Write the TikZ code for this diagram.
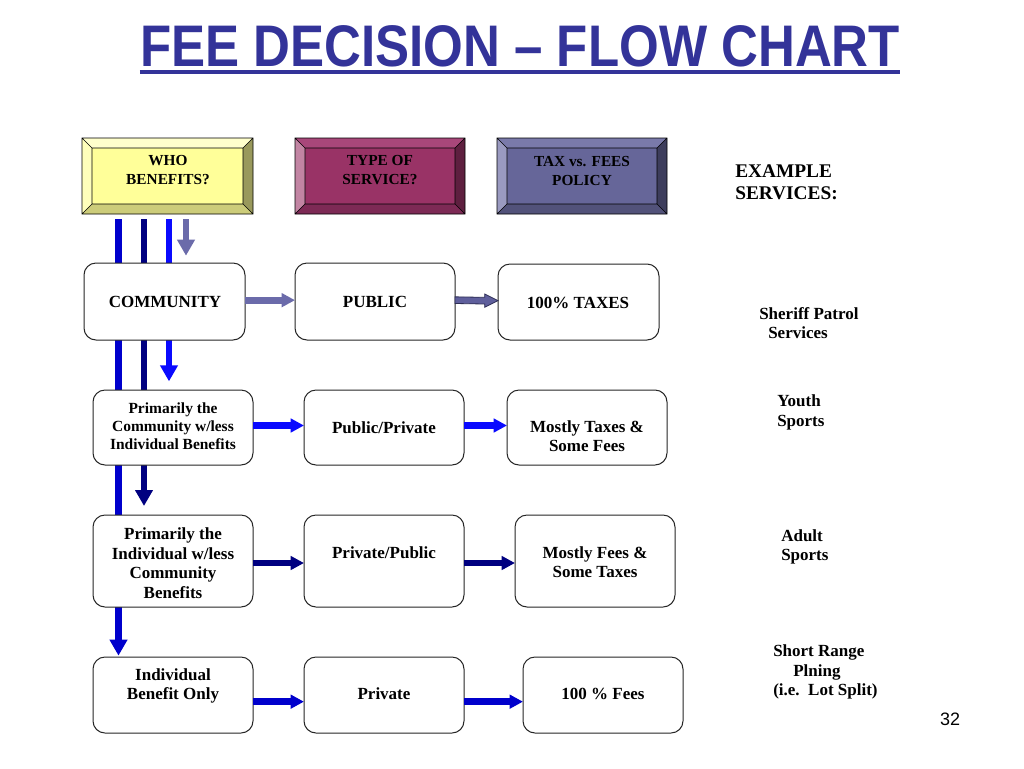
\documentclass[tikz,border=0pt]{standalone}
\usepackage{fontspec}
\setmainfont{Liberation Serif}
\newfontfamily\titlefont{Liberation Sans}[FakeStretch=0.87,Ligatures=TeX]
\newfontfamily\numfont{Liberation Sans}
\usetikzlibrary{arrows.meta,backgrounds}
\definecolor{ttl}{HTML}{333399}
\definecolor{yface}{HTML}{FFFF99}
\definecolor{ytop}{HTML}{FFFFCC}
\definecolor{yleft}{HTML}{FFFFBB}
\definecolor{yright}{HTML}{99995C}
\definecolor{ybot}{HTML}{CCCC7A}
\definecolor{mface}{HTML}{993366}
\definecolor{mtop}{HTML}{A8477A}
\definecolor{mleft}{HTML}{C285A3}
\definecolor{mright}{HTML}{5E1F3F}
\definecolor{mbot}{HTML}{7D2A55}
\definecolor{pface}{HTML}{666699}
\definecolor{ptop}{HTML}{7A7AAA}
\definecolor{pleft}{HTML}{9A9AC0}
\definecolor{pright}{HTML}{3D3D5C}
\definecolor{pbot}{HTML}{52527A}
\definecolor{cone}{HTML}{0000CC}
\definecolor{ctwo}{HTML}{000080}
\definecolor{cthree}{HTML}{0A0AFF}
\definecolor{cfour}{HTML}{6B6BAA}
\definecolor{cfourd}{HTML}{2E2E55}
\definecolor{cfourf}{HTML}{5F5F9C}
\newcommand\bevelbox[6]{%
  \fill[#2] (#1.north west) rectangle (#1.south east);
  \fill[#3] (#1.north west) -- (#1.north east) -- ([shift={(-7.5pt,-7.5pt)}]#1.north east) -- ([shift={(7.5pt,-7.5pt)}]#1.north west) -- cycle;
  \fill[#4] (#1.north west) -- ([shift={(7.5pt,-7.5pt)}]#1.north west) -- ([shift={(7.5pt,7.5pt)}]#1.south west) -- (#1.south west) -- cycle;
  \fill[#5] (#1.north east) -- ([shift={(-7.5pt,-7.5pt)}]#1.north east) -- ([shift={(-7.5pt,7.5pt)}]#1.south east) -- (#1.south east) -- cycle;
  \fill[#6] (#1.south west) -- ([shift={(7.5pt,7.5pt)}]#1.south west) -- ([shift={(-7.5pt,7.5pt)}]#1.south east) -- (#1.south east) -- cycle;
  \draw[bev] (#1.north west) rectangle (#1.south east)
    ([shift={(7.5pt,-7.5pt)}]#1.north west) rectangle ([shift={(-7.5pt,7.5pt)}]#1.south east)
    (#1.north west) -- ++(7.5pt,-7.5pt) (#1.north east) -- ++(-7.5pt,-7.5pt)
    (#1.south west) -- ++(7.5pt,7.5pt) (#1.south east) -- ++(-7.5pt,7.5pt);
}
\begin{document}
\begin{tikzpicture}[x=0.75pt,y=-0.75pt,
  sz/.style 2 args={minimum width=#1*0.75pt,minimum height=#2*0.75pt},
  hdr/.style={inner sep=0pt,outer sep=0pt},
  rbox/.style={draw=black!85,line width=0.75pt,rounded corners=9pt,fill=white,inner sep=0pt,outer sep=0pt},
  txt/.style={font=\bfseries\fontsize{12.75}{14.6}\selectfont,align=center,inner sep=0pt},
  htxt/.style={font=\bfseries\fontsize{11.5}{14.25}\selectfont,align=center,inner sep=0pt},
  stxt/.style={font=\bfseries\fontsize{11.6}{13.5}\selectfont,align=center,inner sep=0pt},
  sidetxt/.style={font=\bfseries\fontsize{12.75}{14.6}\selectfont,align=left,inner sep=0pt,anchor=west},
  harr/.style={line width=5pt,-{Triangle[length=10pt,width=10pt]}},
  varr/.style={line width=4.9pt,shorten <=3.75pt,-{Triangle[length=12pt,width=12.75pt]}},
  bev/.style={line width=0.5pt,draw=black}
]
\useasboundingbox (0,0) rectangle (1024,768);
% title
\node[font=\titlefont\bfseries\fontsize{44}{50}\selectfont,text=ttl,anchor=base,inner sep=0pt] (title) at (520,66) {FEE DECISION – FLOW CHART};
\draw[ttl,line width=3pt] ([yshift=-4.5pt]title.base west) -- ([yshift=-4.5pt]title.base east);
% header boxes
\node[hdr,sz={171}{76}] (who) at (167.5,176) {};
\node[hdr,sz={170}{76}] (type) at (380,176) {};
\node[hdr,sz={170}{76}] (tax) at (582,176) {};
\bevelbox{who}{yface}{ytop}{yleft}{yright}{ybot}
\bevelbox{type}{mface}{mtop}{mleft}{mright}{mbot}
\bevelbox{tax}{pface}{ptop}{pleft}{pright}{pbot}
\node[htxt] (whot) at (168,170.5) {WHO\\BENEFITS?};
\node[htxt] (typet) at (380,170.5) {TYPE OF\\SERVICE?};
\node[htxt] (taxt) at (582,170.5) {TAX vs. FEES\\POLICY};
\node[font=\bfseries\fontsize{14.5}{16.5}\selectfont,align=left,inner sep=0pt,anchor=west] (ex) at (735,182) {EXAMPLE\\SERVICES:};
% row boxes
\node[rbox,sz={161}{77}] (comm) at (164.5,301.5) {};
\node[rbox,sz={160}{77}] (pub) at (375,301.5) {};
\node[rbox,sz={161}{76}] (taxes) at (578.5,302) {};
\node[rbox,sz={160}{75}] (ra) at (173,427.5) {};
\node[rbox,sz={160}{75}] (rb) at (384,427.5) {};
\node[rbox,sz={160}{75}] (rc) at (587,427.5) {};
\node[rbox,sz={160}{92}] (sa) at (173,561) {};
\node[rbox,sz={160}{92}] (sb) at (384,561) {};
\node[rbox,sz={160}{92}] (sc) at (595,561) {};
\node[rbox,sz={160}{76}] (ua) at (173,695) {};
\node[rbox,sz={160}{76}] (ub) at (384,695) {};
\node[rbox,sz={160}{76}] (uc) at (603,695) {};
% texts
\node[txt] (commt) at (165,302) {COMMUNITY};
\node[txt] (pubt) at (375,302) {PUBLIC};
\node[txt] (taxest) at (578,303) {100\% TAXES};
\node[stxt] (rat) at (173,426) {Primarily the\\Community w/less\\Individual Benefits};
\node[txt] (rbt) at (384,428) {Public/Private};
\node[txt] (rct) at (587,436) {Mostly Taxes \&\\Some Fees};
\node[txt] (sat) at (173,563) {Primarily the\\Individual w/less\\Community\\Benefits};
\node[txt] (sbt) at (384,553) {Private/Public};
\node[txt] (sct) at (595,562) {Mostly Fees \&\\Some Taxes};
\node[txt] (uat) at (173,686) {Individual\\Benefit Only};
\node[txt] (ubt) at (384,694) {Private};
\node[txt] (uct) at (603,694) {100 \% Fees};
% example services
\node[sidetxt] (sheriff) at (759,323) {Sheriff Patrol\\\hspace*{6.75pt}Services};
\node[sidetxt] (youth) at (777,412.5) {Youth\\Sports};
\node[sidetxt] (adult) at (781,547) {Adult\\Sports};
\node[sidetxt] (short) at (773,672) {Short Range\\\hspace*{15pt}Plning\\(i.e.\ \ Lot Split)};
\node[font=\numfont\fontsize{13.5}{16}\selectfont,inner sep=0pt] (pg) at (950,719) {32};
% horizontal arrows
\draw[harr,cfour] ([yshift=1pt]comm.east) -- ([yshift=1pt]pub.west);
\filldraw[fill=cfourf,draw=cfourd,line width=0.6pt]
  ([yshift=3.5pt]pub.east) -- ([xshift=-10pt,yshift=3.5pt]taxes.west) -- ([xshift=-10pt,yshift=6pt]taxes.west)
  -- ([yshift=1pt]taxes.west) -- ([xshift=-10pt,yshift=-4pt]taxes.west) -- ([xshift=-10pt,yshift=-1.5pt]taxes.west)
  -- ([yshift=-1.5pt]pub.east) -- cycle;
\draw[harr,cthree] ([yshift=1.5pt]ra.east) -- ([yshift=1.5pt]rb.west);
\draw[harr,cthree] ([yshift=1.5pt]rb.east) -- ([yshift=1.5pt]rc.west);
\draw[harr,ctwo] ([yshift=-1.5pt]sa.east) -- ([yshift=-1.5pt]sb.west);
\draw[harr,ctwo] ([yshift=-1.5pt]sb.east) -- ([yshift=-1.5pt]sc.west);
\draw[harr,cone] ([yshift=-5pt]ua.east) -- ([yshift=-5pt]ub.west);
\draw[harr,cone] ([yshift=-5pt]ub.east) -- ([yshift=-5pt]uc.west);
% vertical arrows (behind boxes)
\coordinate (xa) at (118.5,0);
\coordinate (xb) at (144,0);
\coordinate (xc) at (169,0);
\coordinate (xd) at (186,0);
\begin{scope}[on background layer]
\fill[white] (0,0) rectangle (1024,768);
\draw[varr,cone,shorten >=1pt] (who.south -| xa) -- (ua.north -| xa);
\draw[varr,ctwo,shorten >=6.75pt] (who.south -| xb) -- (sa.north -| xb);
\draw[varr,cthree,shorten >=6.5pt] (who.south -| xc) -- (ra.north -| xc);
\draw[varr,cfour,line width=4pt,shorten >=5.5pt] (who.south -| xd) -- (comm.north -| xd);
\end{scope}
\end{tikzpicture}
\end{document}
